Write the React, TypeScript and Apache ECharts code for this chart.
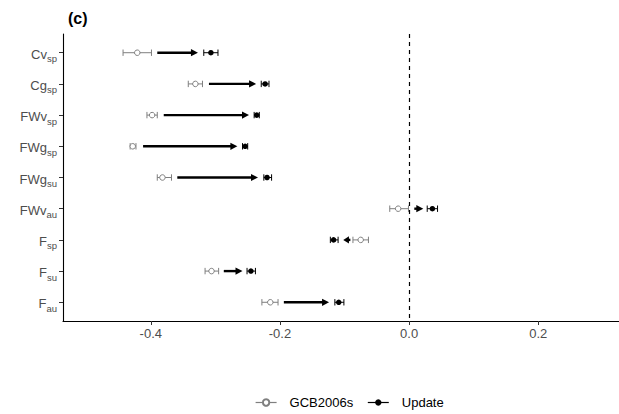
import React, { useEffect, useRef } from "react";
import * as echarts from "echarts";

const catMain = ["Cv", "Cg", "FWv", "FWg", "FWg", "FWv", "F", "F", "F"];
const catSub = ["sp", "sp", "sp", "sp", "su", "au", "sp", "su", "au"];

const gcbMean = [-0.421, -0.331, -0.398, -0.428, -0.382, -0.017, -0.075, -0.306, -0.215];
const gcbLow = [-0.443, -0.342, -0.406, -0.432, -0.39, -0.03, -0.087, -0.316, -0.228];
const gcbHigh = [-0.399, -0.32, -0.39, -0.423, -0.368, -0.001, -0.063, -0.295, -0.203];

const updMean = [-0.307, -0.223, -0.236, -0.254, -0.22, 0.036, -0.117, -0.245, -0.109];
const updLow = [-0.318, -0.229, -0.24, -0.258, -0.225, 0.028, -0.122, -0.251, -0.115];
const updHigh = [-0.296, -0.217, -0.232, -0.25, -0.213, 0.044, -0.11, -0.238, -0.101];

const arrowFrom = [-0.39, -0.31, -0.38, -0.412, -0.359, 0.008, -0.091, -0.287, -0.194];
const arrowTo = [-0.327, -0.237, -0.248, -0.266, -0.234, 0.022, -0.102, -0.258, -0.124];

const xTicks = [-0.4, -0.2, 0.0, 0.2];

const GRAY = "#7f7f7f";
const LABEL = "#4d4d4d";
const FONT = "Liberation Sans";

export default function App() {
  const ref = useRef<HTMLDivElement>(null);
  useEffect(() => {
    document.body.style.margin = "0";
    const chart = echarts.init(ref.current!, undefined, { renderer: "svg" });
    const idx = catMain.map((_, i) => i);

    const errRender = (color: string) => (params: any, api: any) => {
      const lo = api.coord([api.value(0), api.value(2)]);
      const hi = api.coord([api.value(1), api.value(2)]);
      const h = 3.2;
      const style = { stroke: color, lineWidth: 1 };
      return {
        type: "group",
        children: [
          { type: "line", shape: { x1: lo[0], y1: lo[1], x2: hi[0], y2: hi[1] }, style },
          { type: "line", shape: { x1: lo[0], y1: lo[1] - h, x2: lo[0], y2: lo[1] + h }, style },
          { type: "line", shape: { x1: hi[0], y1: hi[1] - h, x2: hi[0], y2: hi[1] + h }, style },
        ],
      };
    };

    const arrowRender = (params: any, api: any) => {
      const p1 = api.coord([api.value(0), api.value(2)]);
      const p2 = api.coord([api.value(1), api.value(2)]);
      const dir = p2[0] >= p1[0] ? 1 : -1;
      const len = Math.abs(p2[0] - p1[0]);
      const head = Math.min(7, len * 0.8);
      const hw = 3.6;
      const base = p2[0] - dir * head;
      return {
        type: "group",
        children: [
          {
            type: "line",
            shape: { x1: p1[0], y1: p1[1], x2: base + dir * 1, y2: p2[1] },
            style: { stroke: "#000", lineWidth: 2.4 },
          },
          {
            type: "polygon",
            shape: { points: [[p2[0], p2[1]], [base, p2[1] - hw], [base, p2[1] + hw]] },
            style: { fill: "#000" },
          },
        ],
      };
    };

    chart.setOption({
      animation: false,
      title: {
        text: "(c)",
        left: 63,
        top: 5,
        textStyle: { fontFamily: FONT, fontSize: 16, fontWeight: "bold", color: "#000" },
      },
      grid: { left: 63, right: 0, top: 34, bottom: 93 },
      legend: {
        data: ["GCB2006s", "Update"],
        left: 250,
        top: 391,
        itemWidth: 21,
        itemHeight: 8,
        itemGap: 14,
        textStyle: { fontFamily: FONT, fontSize: 13, color: "#000", padding: [0, 0, 0, 8] },
        lineStyle: { opacity: 1, width: 1.2 },
      },
      xAxis: {
        type: "value",
        min: -0.536,
        max: 0.325,
        splitLine: { show: false },
        axisLine: { show: true, onZero: false, lineStyle: { color: "#000", width: 1.1 } },
        axisTick: { show: true, customValues: xTicks, length: 4, lineStyle: { color: "#333" } },
        axisLabel: {
          customValues: xTicks,
          formatter: (v: number) => v.toFixed(1),
          color: LABEL,
          fontFamily: FONT,
          fontSize: 13,
          margin: 6,
        },
      },
      yAxis: {
        type: "value",
        inverse: true,
        min: -0.6,
        max: 8.6,
        splitLine: { show: false },
        axisLine: { show: true, onZero: false, lineStyle: { color: "#000", width: 1.1 } },
        axisTick: { show: true, customValues: idx, length: 4, lineStyle: { color: "#333" } },
        axisLabel: {
          customValues: idx,
          margin: 6,
          formatter: (v: number) => {
            const i = Math.round(v);
            return `{m|${catMain[i]}}{s|${catSub[i]}}`;
          },
          rich: {
            m: { fontFamily: FONT, fontSize: 13, color: LABEL, lineHeight: 16, verticalAlign: "bottom" },
            s: { fontFamily: FONT, fontSize: 9.5, color: LABEL, lineHeight: 16, verticalAlign: "bottom", padding: [0, 0, -3, 0] },
          },
        },
      },
      series: [
        {
          name: "arrows",
          type: "custom",
          renderItem: arrowRender,
          data: idx.map((i) => [arrowFrom[i], arrowTo[i], i]),
          encode: { x: [0, 1], y: 2 },
          silent: true,
          z: 3,
          markLine: {
            silent: true,
            symbol: "none",
            label: { show: false },
            lineStyle: { color: "#000", type: [4, 4], width: 1.2 },
            data: [{ xAxis: 0 }],
          },
        },
        {
          name: "gcbErr",
          type: "custom",
          renderItem: errRender(GRAY),
          data: idx.map((i) => [gcbLow[i], gcbHigh[i], i]),
          encode: { x: [0, 1], y: 2 },
          silent: true,
          z: 4,
        },
        {
          name: "updErr",
          type: "custom",
          renderItem: errRender("#000"),
          data: idx.map((i) => [updLow[i], updHigh[i], i]),
          encode: { x: [0, 1], y: 2 },
          silent: true,
          z: 4,
        },
        {
          name: "GCB2006s",
          type: "line",
          data: idx.map((i) => [gcbMean[i], i]),
          symbol: "circle",
          symbolSize: 5.5,
          itemStyle: { color: "#fff", borderColor: GRAY, borderWidth: 1 },
          lineStyle: { color: GRAY, opacity: 0 },
          z: 5,
        },
        {
          name: "Update",
          type: "line",
          data: idx.map((i) => [updMean[i], i]),
          symbol: "circle",
          symbolSize: 5.5,
          itemStyle: { color: "#000" },
          lineStyle: { color: "#000", opacity: 0 },
          z: 5,
        },
      ],
    });
    return () => chart.dispose();
  }, []);
  return <div ref={ref} style={{ width: 619, height: 414 }} />;
}
